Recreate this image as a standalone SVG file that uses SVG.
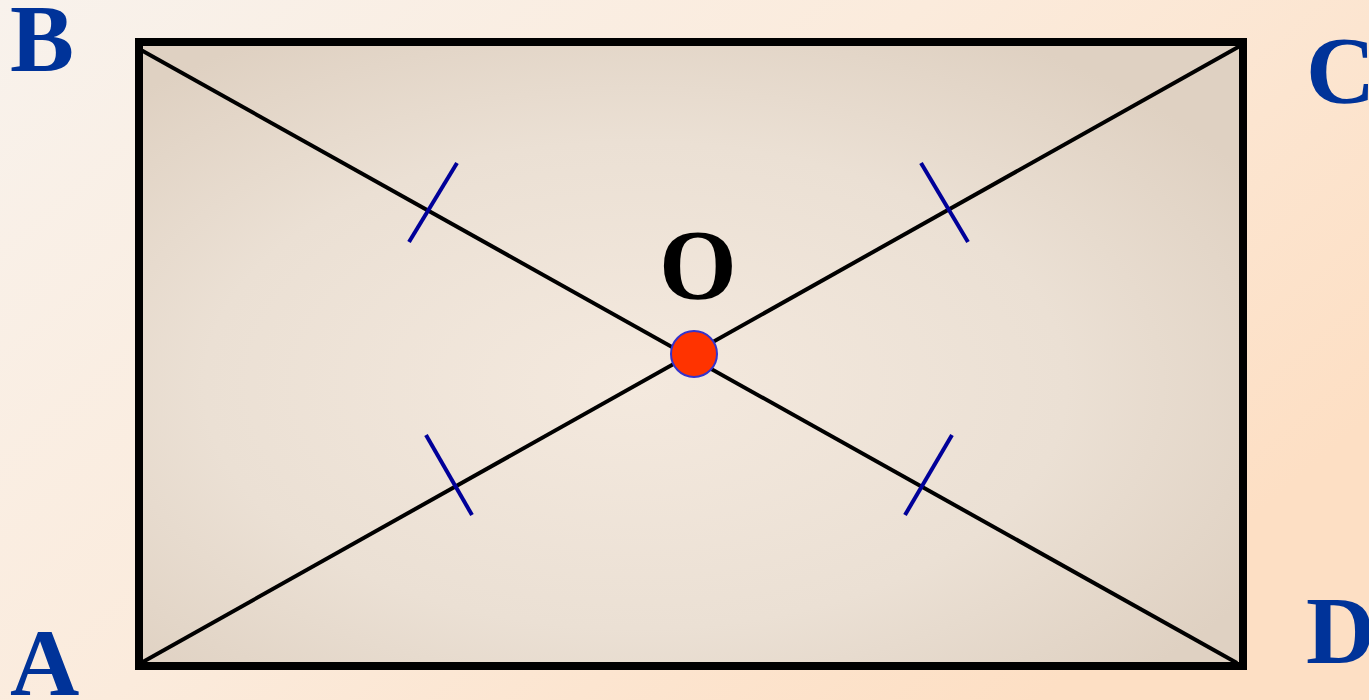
<svg xmlns="http://www.w3.org/2000/svg" width="1369" height="700" viewBox="0 0 1369 700">
<defs>
<linearGradient id="bg" x1="0" y1="0" x2="1" y2="0.6">
<stop offset="0" stop-color="#f8f2ec"/>
<stop offset="0.5" stop-color="#fbebdc"/>
<stop offset="1" stop-color="#fddfc4"/>
</linearGradient>
<radialGradient id="fill" cx="0.45" cy="0.55" r="0.65">
<stop offset="0" stop-color="#f4e9de"/>
<stop offset="0.6" stop-color="#ebe0d4"/>
<stop offset="1" stop-color="#dfd1c2"/>
</radialGradient>
<style>
.lbl{font-family:"Liberation Serif","Times New Roman",serif;font-weight:bold;font-size:96px;fill:#003399}
.diag{stroke:#000;stroke-width:4;fill:none}
.tick{stroke:#000099;stroke-width:4;fill:none}
</style>
</defs>
<rect width="1369" height="700" fill="url(#bg)"/>
<g id="rectangle">
<rect x="139" y="42" width="1104" height="624" fill="url(#fill)" stroke="#000" stroke-width="8"/>
</g>
<g id="connectors">
<line class="diag" x1="141" y1="50" x2="1237" y2="663"/>
<line class="diag" x1="141" y1="663" x2="1240" y2="46"/>
<line class="tick" x1="409" y1="242" x2="457" y2="163"/>
<line class="tick" x1="921" y1="163" x2="968" y2="242"/>
<line class="tick" x1="426" y1="435" x2="472" y2="515"/>
<line class="tick" x1="952" y1="435" x2="905" y2="515"/>
</g>
<g id="O">
<circle cx="694" cy="354" r="23" fill="#ff3300" stroke="#3333cc" stroke-width="2"/>
<text x="698" y="298" text-anchor="middle" style="font-family:'Liberation Serif','Times New Roman',serif;font-weight:bold;font-size:100px;fill:#000">O</text>
</g>
<g id="B"><text class="lbl" x="10" y="71">B</text></g>
<g id="C"><text class="lbl" x="1306" y="103">C</text></g>
<g id="A"><text class="lbl" x="10" y="695">A</text></g>
<g id="D"><text class="lbl" x="1306" y="663">D</text></g>
</svg>
